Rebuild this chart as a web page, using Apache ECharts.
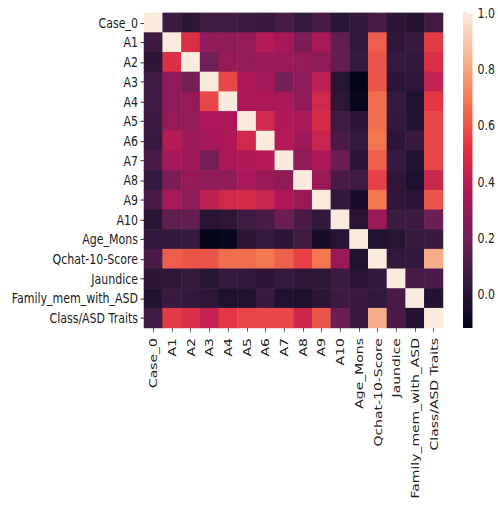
<!DOCTYPE html>
<html>
<head>
<meta charset="utf-8">
<script src="https://cdn.jsdelivr.net/npm/echarts@6/dist/echarts.min.js"></script>
<style>
html{margin:0;padding:0;background:#fff;overflow:hidden;}
body{margin:0;padding:0;background:#fff;width:498px;height:509px;}
#chart{width:498px;height:401px;transform:scaleY(1.27);transform-origin:0 0;}
</style>
</head>
<body>
<div id="chart"></div>
<script>
// categories
const labels = ["Case_0","A1","A2","A3","A4","A5","A6","A7","A8","A9","A10","Age_Mons","Qchat-10-Score","Jaundice","Family_mem_with_ASD","Class/ASD Traits"];
// correlation matrix rows
const rowCase0   = [1.00, 0.06, 0.01, 0.07, 0.07, 0.06, 0.05, 0.10, 0.04, 0.09, 0.00, 0.03, 0.10, 0.01,-0.01, 0.07];
const rowA1      = [0.06, 1.00, 0.50, 0.28, 0.28, 0.30, 0.38, 0.34, 0.23, 0.35, 0.16, 0.03, 0.62, 0.02, 0.05, 0.54];
const rowA2      = [0.01, 0.50, 1.00, 0.20, 0.30, 0.29, 0.32, 0.32, 0.30, 0.28, 0.17, 0.04, 0.60, 0.04, 0.03, 0.50];
const rowA3      = [0.07, 0.28, 0.20, 1.00, 0.57, 0.36, 0.34, 0.21, 0.28, 0.41, 0.00,-0.12, 0.60, 0.00, 0.02, 0.42];
const rowA4      = [0.07, 0.28, 0.30, 0.57, 1.00, 0.36, 0.36, 0.35, 0.28, 0.46, 0.02,-0.10, 0.66, 0.04,-0.02, 0.53];
const rowA5      = [0.06, 0.30, 0.29, 0.36, 0.36, 1.00, 0.46, 0.37, 0.35, 0.48, 0.07, 0.01, 0.66, 0.03,-0.01, 0.57];
const rowA6      = [0.05, 0.38, 0.32, 0.34, 0.36, 0.46, 1.00, 0.38, 0.32, 0.44, 0.10, 0.04, 0.68, 0.01, 0.05, 0.57];
const rowA7      = [0.10, 0.34, 0.32, 0.21, 0.35, 0.37, 0.38, 1.00, 0.28, 0.36, 0.19, 0.01, 0.63, 0.04,-0.02, 0.57];
const rowA8      = [0.04, 0.23, 0.30, 0.28, 0.28, 0.35, 0.32, 0.28, 1.00, 0.31, 0.10, 0.07, 0.55, 0.02,-0.03, 0.45];
const rowA9      = [0.09, 0.35, 0.28, 0.41, 0.46, 0.48, 0.44, 0.36, 0.31, 1.00, 0.03,-0.05, 0.68, 0.02, 0.01, 0.60];
const rowA10     = [0.00, 0.16, 0.17, 0.00, 0.02, 0.07, 0.10, 0.19, 0.10, 0.03, 1.00, 0.00, 0.31, 0.06, 0.06, 0.19];
const rowAge     = [0.03, 0.03, 0.04,-0.12,-0.10, 0.01, 0.04, 0.01, 0.07,-0.05, 0.00, 1.00,-0.02, 0.00, 0.05, 0.05];
const rowQchat   = [0.10, 0.62, 0.60, 0.60, 0.66, 0.66, 0.68, 0.63, 0.55, 0.68, 0.31,-0.02, 1.00, 0.03, 0.03, 0.82];
const rowJaund   = [0.01, 0.02, 0.04, 0.00, 0.04, 0.03, 0.01, 0.04, 0.02, 0.02, 0.06, 0.00, 0.03, 1.00, 0.10, 0.10];
const rowFamily  = [-0.01,0.05, 0.03, 0.02,-0.02,-0.01, 0.05,-0.02,-0.03, 0.01, 0.06, 0.05, 0.03, 0.10, 1.00,-0.01];
const rowClass   = [0.07, 0.54, 0.50, 0.42, 0.53, 0.57, 0.57, 0.57, 0.45, 0.60, 0.19, 0.05, 0.82, 0.10,-0.01, 1.00];
const matrix = [rowCase0,rowA1,rowA2,rowA3,rowA4,rowA5,rowA6,rowA7,rowA8,rowA9,rowA10,rowAge,rowQchat,rowJaund,rowFamily,rowClass];
// colour scale
const VMIN = -0.12, VMAX = 1.0;
const colorbarTicks = [0.0, 0.2, 0.4, 0.6, 0.8, 1.0];
const rocket = ["#03051a","#35193e","#701f57","#ad1759","#e13342","#f37651","#f6b48f","#faebdd"];

const data = [];
matrix.forEach((row, yi) => row.forEach((v, xi) => data.push([xi, yi, v])));

const chart = echarts.init(document.getElementById('chart'), null, {renderer: 'svg'});
const font = 'DejaVu Sans';
const tickStyle = {color: '#333', width: 0.8};
chart.setOption({
  animation: false,
  grid: [
    {left: 144, top: 10.2, width: 299, height: 248},
    {left: 463, top: 10.2, width: 10, height: 248}
  ],
  xAxis: [
    {type: 'category', data: labels, gridIndex: 0, position: 'bottom',
     axisLine: {show: false}, splitLine: {show: false},
     axisTick: {show: true, alignWithLabel: true, length: 3, lineStyle: tickStyle},
     axisLabel: {rotate: 90, interval: 0, fontSize: 11, fontFamily: font, color: '#222', margin: 8}},
    {type: 'value', gridIndex: 1, min: 0, max: 1, show: false}
  ],
  yAxis: [
    {type: 'category', data: labels, gridIndex: 0, inverse: true,
     axisLine: {show: false}, splitLine: {show: false},
     axisTick: {show: true, alignWithLabel: true, length: 3.5, lineStyle: tickStyle},
     axisLabel: {interval: 0, fontSize: 11, fontFamily: font, color: '#222', margin: 6}},
    {type: 'value', gridIndex: 1, min: VMIN, max: VMAX, position: 'right',
     axisLine: {show: false}, splitLine: {show: false},
     axisTick: {show: true, length: 3.5, lineStyle: tickStyle, customValues: colorbarTicks},
     axisLabel: {fontSize: 11, fontFamily: font, color: '#222', margin: 5,
       customValues: colorbarTicks, formatter: v => v.toFixed(1)}}
  ],
  visualMap: {show: false, type: 'continuous', min: VMIN, max: VMAX, dimension: 2,
    seriesIndex: 0, inRange: {color: rocket}},
  series: [
    {type: 'heatmap', data: data, xAxisIndex: 0, yAxisIndex: 0, progressive: 0,
     emphasis: {disabled: true}, itemStyle: {borderWidth: 0}},
    {type: 'custom', xAxisIndex: 1, yAxisIndex: 1, data: [[0]], silent: true,
     renderItem: function (params, api) {
       const p1 = api.coord([0, VMAX]);
       const p2 = api.coord([1, VMIN]);
       const stops = rocket.map((c, i) => ({offset: 1 - i / (rocket.length - 1), color: c})).reverse();
       return {type: 'rect', shape: {x: p1[0], y: p1[1], width: p2[0] - p1[0], height: p2[1] - p1[1]},
         style: {fill: new echarts.graphic.LinearGradient(0, 0, 0, 1, stops)}};
     }}
  ]
});
</script>
</body>
</html>
